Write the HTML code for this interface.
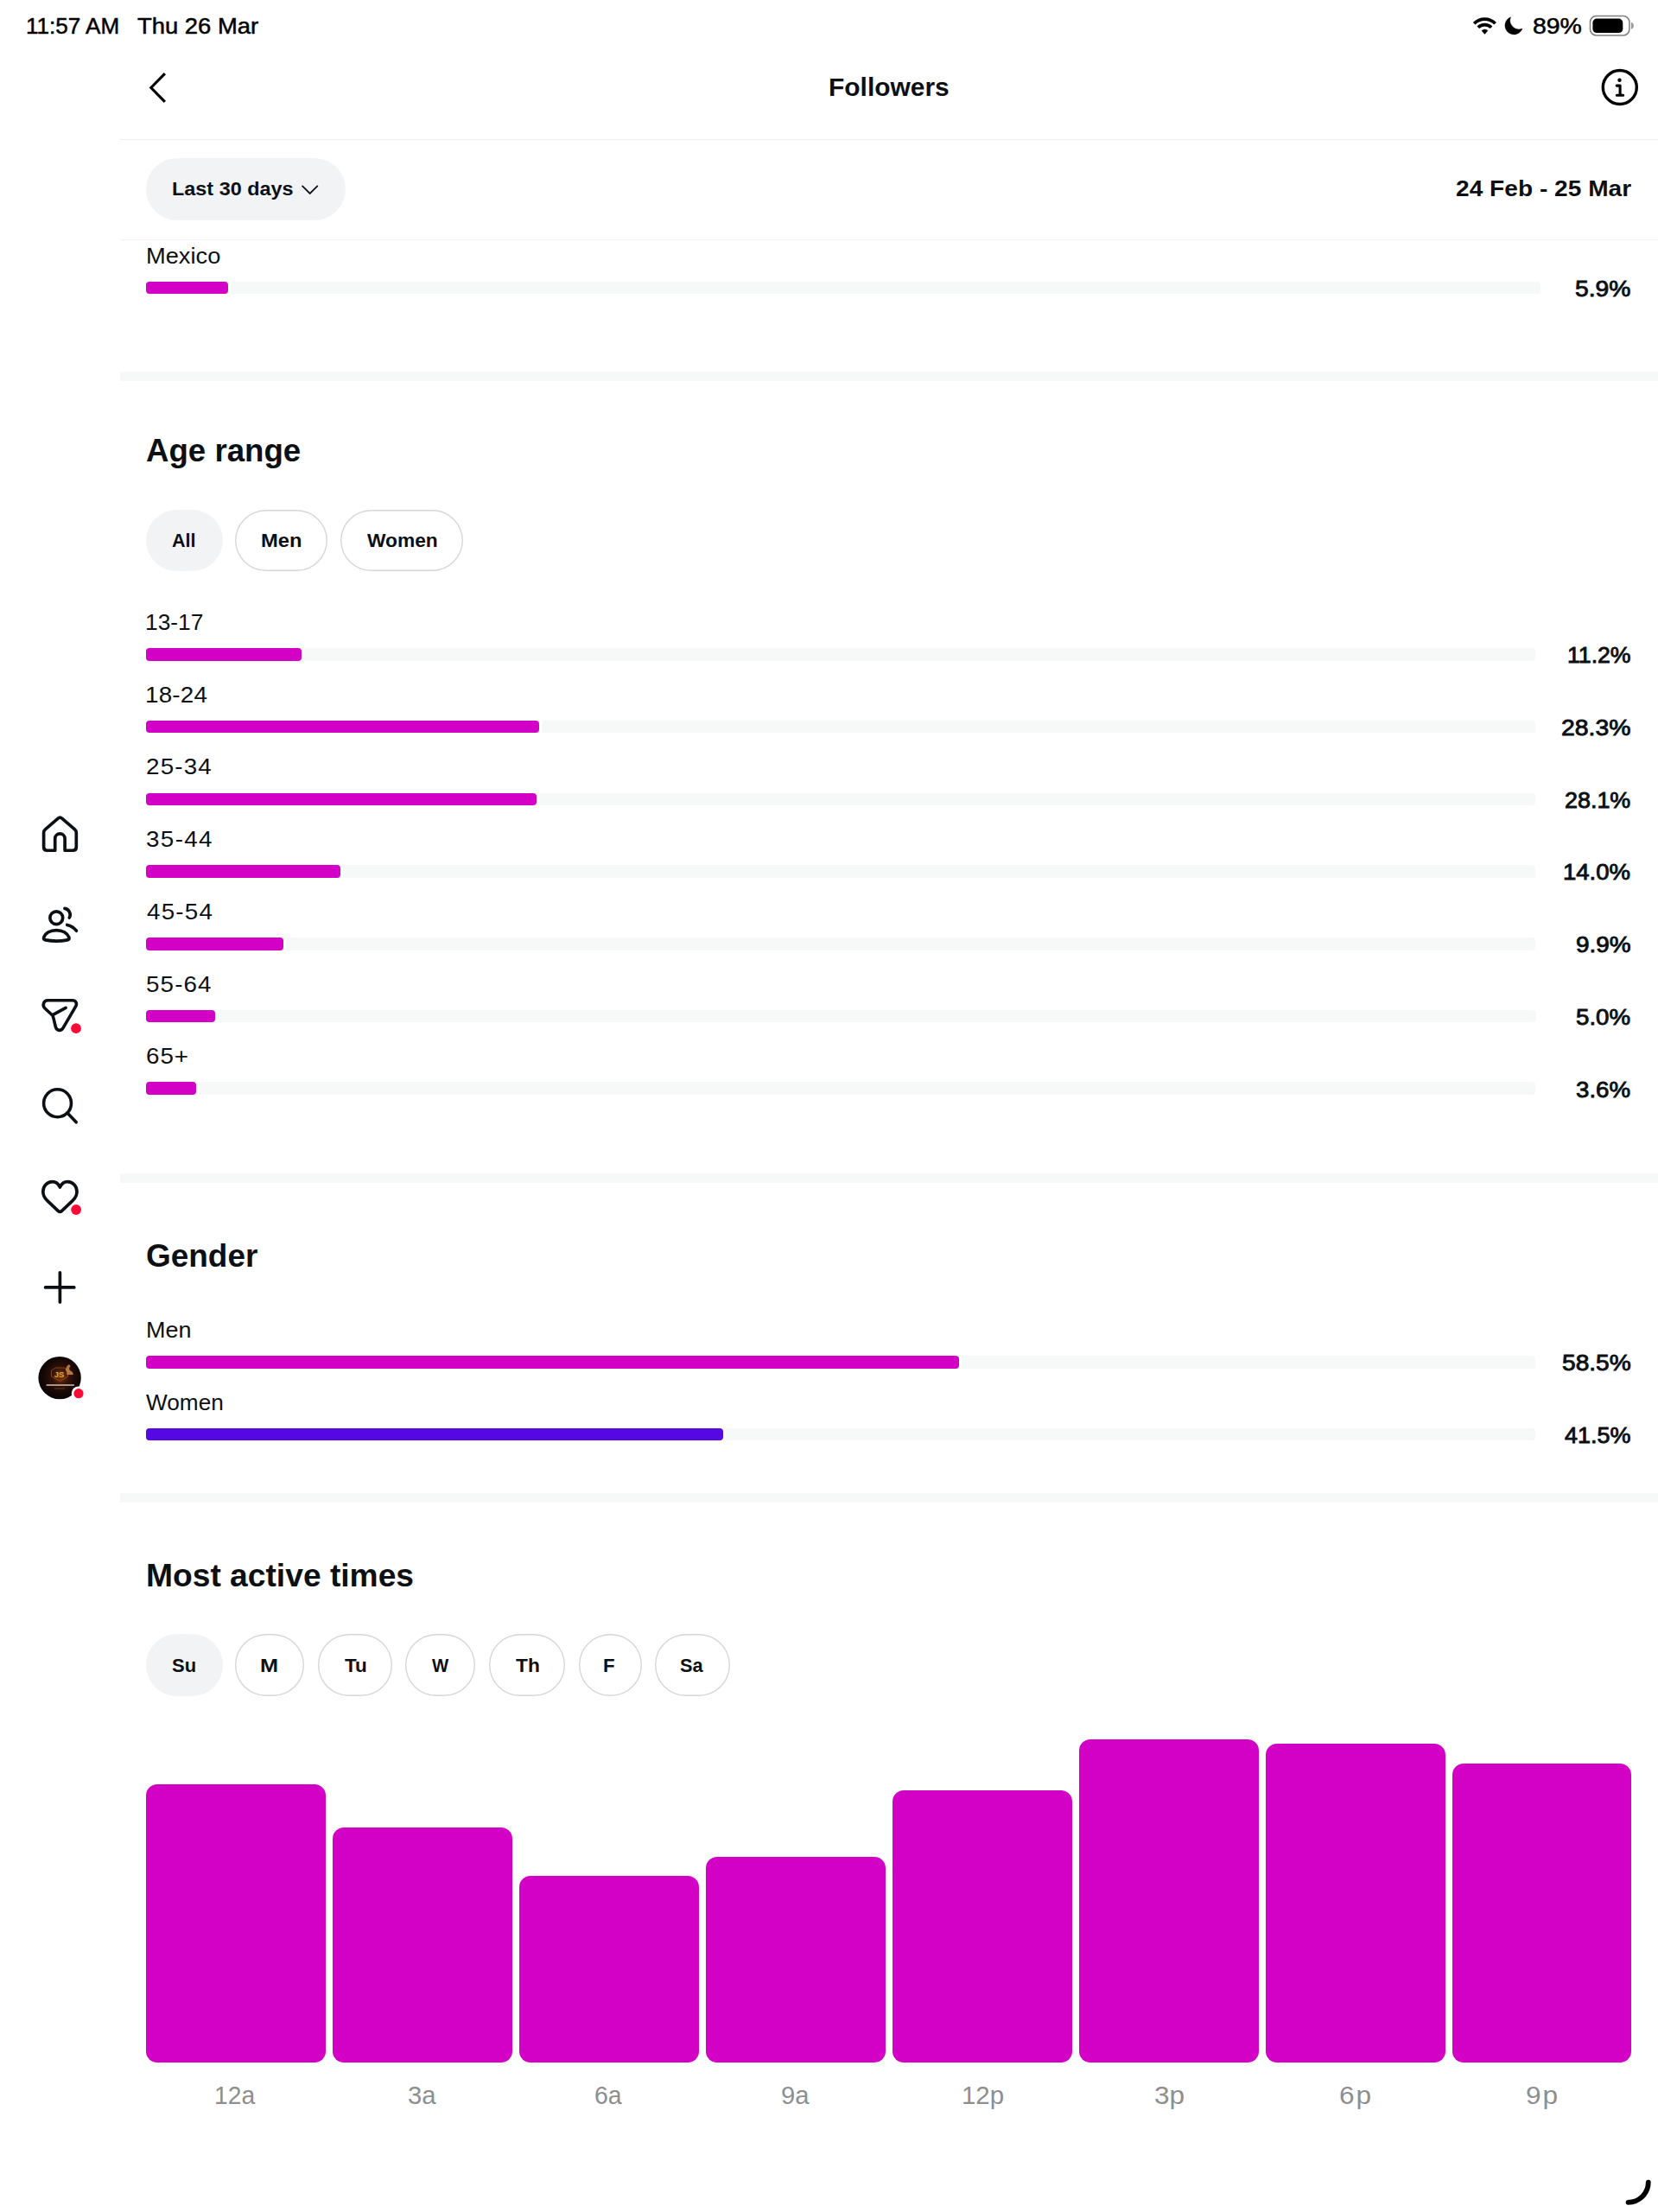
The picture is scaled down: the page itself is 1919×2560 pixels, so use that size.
<!DOCTYPE html>
<html lang="en">
<head>
<meta charset="utf-8">
<title>Followers</title>
<style>
html,body{margin:0;padding:0;background:#fff;}
body{width:1919px;height:2560px;position:relative;overflow:hidden;font-family:"Liberation Sans",sans-serif;color:#0c1014;}
.t{position:absolute;white-space:nowrap;line-height:1;display:block;transform-origin:left center;}
.b{position:absolute;box-sizing:border-box;}
svg{position:absolute;overflow:visible;}
</style>
</head>
<body>
<!-- status bar -->
<span class="t" style="left:30.15px;top:16.99px;font-size:26px;color:#000;-webkit-text-stroke:0.5px #000;transform:scaleX(1.0022);">11:57 AM</span>
<span class="t" style="left:158.68px;top:16.99px;font-size:26px;color:#000;-webkit-text-stroke:0.5px #000;transform:scaleX(1.0538);">Thu 26 Mar</span>
<span class="t" style="left:1773.78px;top:17.71px;font-size:25.5px;color:#000;-webkit-text-stroke:0.5px #000;transform:scaleX(1.1149);">89%</span>
<!-- header -->
<span class="t" style="left:959.05px;top:86.65px;font-size:29px;font-weight:700;transform:scaleX(1.0322);">Followers</span>
<div class="b" style="left:139.00px;top:160.50px;width:1780.00px;height:1.00px;background:#efefef;"></div>
<div class="b" style="left:139.00px;top:276.50px;width:1780.00px;height:1.00px;background:#f3f3f3;"></div>
<div class="b" style="left:169.00px;top:183.00px;width:231.00px;height:72.00px;background:#f2f3f5;border-radius:36px;"></div>
<span class="t" style="left:198.68px;top:207.55px;font-size:22.5px;font-weight:700;transform:scaleX(1.0412);">Last 30 days</span>
<span class="t" style="left:1685.22px;top:205.51px;font-size:25.5px;font-weight:700;letter-spacing:0.03px;transform:scaleX(1.1000);">24 Feb - 25 Mar</span>
<!-- top locations (tail) -->
<span class="t" style="left:168.72px;top:283.51px;font-size:25.5px;transform:scaleX(1.0689);">Mexico</span>
<div class="b" style="left:267.23px;top:325.80px;width:1515.77px;height:14.50px;background:#f7f8f8;border-radius:1px 4px 4px 1px;"></div>
<div class="b" style="left:169.00px;top:325.80px;width:95.23px;height:14.50px;background:#d300c5;border-radius:4px;"></div>
<span class="t" style="left:1823.35px;top:320.89px;font-size:26px;-webkit-text-stroke:0.9px #0c1014;transform:scaleX(1.0857);">5.9%</span>
<div class="b" style="left:139.00px;top:430.00px;width:1780.00px;height:11.00px;background:#f7f8f8;"></div>
<div class="b" style="left:139.00px;top:1358.00px;width:1780.00px;height:11.00px;background:#f7f8f8;"></div>
<div class="b" style="left:139.00px;top:1728.00px;width:1780.00px;height:11.00px;background:#f7f8f8;"></div>
<!-- age range -->
<span class="t" style="left:169.08px;top:502.96px;font-size:37.5px;font-weight:700;transform:scaleX(0.9772);">Age range</span>
<div class="b" style="left:169.00px;top:589.70px;width:88.50px;height:71.00px;background:#f2f3f5;border-radius:35.5px;"></div>
<span class="t" style="left:199.46px;top:614.78px;font-size:22px;font-weight:700;transform:scaleX(0.9781);">All</span>
<div class="b" style="left:272.00px;top:589.70px;width:107.00px;height:71.00px;background:#fff;border-radius:35.5px;box-shadow:inset 0 0 0 1.4px #d6d6d6;"></div>
<span class="t" style="left:301.66px;top:614.78px;font-size:22px;font-weight:700;transform:scaleX(1.0788);">Men</span>
<div class="b" style="left:393.50px;top:589.70px;width:142.00px;height:71.00px;background:#fff;border-radius:35.5px;box-shadow:inset 0 0 0 1.4px #d6d6d6;"></div>
<span class="t" style="left:424.70px;top:614.78px;font-size:22px;font-weight:700;transform:scaleX(1.0340);">Women</span>
<span class="t" style="left:168.22px;top:707.91px;font-size:25.5px;transform:scaleX(1.0328);">13-17</span>
<div class="b" style="left:352.15px;top:750.20px;width:1425.35px;height:14.50px;background:#f7f8f8;border-radius:1px 4px 4px 1px;"></div>
<div class="b" style="left:169.00px;top:750.20px;width:180.15px;height:14.50px;background:#d300c5;border-radius:4px;"></div>
<span class="t" style="left:1814.02px;top:745.29px;font-size:26px;-webkit-text-stroke:0.9px #0c1014;transform:scaleX(1.0240);">11.2%</span>
<span class="t" style="left:168.12px;top:791.61px;font-size:25.5px;letter-spacing:0.18px;transform:scaleX(1.0900);">18-24</span>
<div class="b" style="left:627.21px;top:833.90px;width:1150.29px;height:14.50px;background:#f7f8f8;border-radius:1px 4px 4px 1px;"></div>
<div class="b" style="left:169.00px;top:833.90px;width:455.21px;height:14.50px;background:#d300c5;border-radius:4px;"></div>
<span class="t" style="left:1807.06px;top:828.99px;font-size:26px;letter-spacing:0.02px;-webkit-text-stroke:0.9px #0c1014;transform:scaleX(1.0900);">28.3%</span>
<span class="t" style="left:168.81px;top:874.81px;font-size:25.5px;letter-spacing:1.08px;transform:scaleX(1.0900);">25-34</span>
<div class="b" style="left:623.99px;top:917.60px;width:1153.51px;height:14.50px;background:#f7f8f8;border-radius:1px 4px 4px 1px;"></div>
<div class="b" style="left:169.00px;top:917.60px;width:451.99px;height:14.50px;background:#d300c5;border-radius:4px;"></div>
<span class="t" style="left:1811.29px;top:912.69px;font-size:26px;-webkit-text-stroke:0.9px #0c1014;transform:scaleX(1.0341);">28.1%</span>
<span class="t" style="left:169.09px;top:958.51px;font-size:25.5px;letter-spacing:1.25px;transform:scaleX(1.0900);">35-44</span>
<div class="b" style="left:397.19px;top:1001.30px;width:1380.31px;height:14.50px;background:#f7f8f8;border-radius:1px 4px 4px 1px;"></div>
<div class="b" style="left:169.00px;top:1001.30px;width:225.19px;height:14.50px;background:#d300c5;border-radius:4px;"></div>
<span class="t" style="left:1809.49px;top:996.39px;font-size:26px;-webkit-text-stroke:0.9px #0c1014;transform:scaleX(1.0585);">14.0%</span>
<span class="t" style="left:169.64px;top:1042.71px;font-size:25.5px;letter-spacing:1.12px;transform:scaleX(1.0900);">45-54</span>
<div class="b" style="left:331.24px;top:1085.00px;width:1446.26px;height:14.50px;background:#f7f8f8;border-radius:1px 4px 4px 1px;"></div>
<div class="b" style="left:169.00px;top:1085.00px;width:159.24px;height:14.50px;background:#d300c5;border-radius:4px;"></div>
<span class="t" style="left:1823.91px;top:1080.09px;font-size:26px;-webkit-text-stroke:0.9px #0c1014;transform:scaleX(1.0729);">9.9%</span>
<span class="t" style="left:169.09px;top:1126.91px;font-size:25.5px;letter-spacing:1.02px;transform:scaleX(1.0900);">55-64</span>
<div class="b" style="left:252.43px;top:1168.70px;width:1525.08px;height:14.50px;background:#f7f8f8;border-radius:1px 4px 4px 1px;"></div>
<div class="b" style="left:169.00px;top:1168.70px;width:80.42px;height:14.50px;background:#d300c5;border-radius:4px;"></div>
<span class="t" style="left:1824.45px;top:1163.79px;font-size:26px;-webkit-text-stroke:0.9px #0c1014;transform:scaleX(1.0638);">5.0%</span>
<span class="t" style="left:168.81px;top:1209.61px;font-size:25.5px;letter-spacing:0.86px;transform:scaleX(1.0900);">65+</span>
<div class="b" style="left:229.91px;top:1252.40px;width:1547.59px;height:14.50px;background:#f7f8f8;border-radius:1px 4px 4px 1px;"></div>
<div class="b" style="left:169.00px;top:1252.40px;width:57.91px;height:14.50px;background:#d300c5;border-radius:4px;"></div>
<span class="t" style="left:1824.45px;top:1247.99px;font-size:26px;-webkit-text-stroke:0.9px #0c1014;transform:scaleX(1.0638);">3.6%</span>
<!-- gender -->
<span class="t" style="left:168.72px;top:1434.86px;font-size:37.5px;font-weight:700;transform:scaleX(0.9854);">Gender</span>
<span class="t" style="left:168.74px;top:1526.81px;font-size:25.5px;transform:scaleX(1.0588);">Men</span>
<div class="b" style="left:1112.97px;top:1569.20px;width:664.53px;height:14.50px;background:#f7f8f8;border-radius:1px 4px 4px 1px;"></div>
<div class="b" style="left:169.00px;top:1569.20px;width:940.97px;height:14.50px;background:#d300c5;border-radius:4px;"></div>
<span class="t" style="left:1807.75px;top:1564.29px;font-size:26px;-webkit-text-stroke:0.9px #0c1014;transform:scaleX(1.0821);">58.5%</span>
<span class="t" style="left:169.47px;top:1610.91px;font-size:25.5px;transform:scaleX(1.0274);">Women</span>
<div class="b" style="left:839.53px;top:1652.80px;width:937.97px;height:14.50px;background:#f7f8f8;border-radius:1px 4px 4px 1px;"></div>
<div class="b" style="left:169.00px;top:1652.80px;width:667.53px;height:14.50px;background:#5608e2;border-radius:4px;"></div>
<span class="t" style="left:1811.19px;top:1647.89px;font-size:26px;-webkit-text-stroke:0.9px #0c1014;transform:scaleX(1.0354);">41.5%</span>
<!-- most active times -->
<span class="t" style="left:168.88px;top:1804.76px;font-size:37.5px;font-weight:700;transform:scaleX(0.9918);">Most active times</span>
<div class="b" style="left:169.00px;top:1891.30px;width:88.70px;height:71.50px;background:#f2f3f5;border-radius:35.75px;"></div>
<span class="t" style="left:199.04px;top:1916.68px;font-size:22px;font-weight:700;transform:scaleX(0.9977);">Su</span>
<div class="b" style="left:272.20px;top:1891.30px;width:80.00px;height:71.50px;background:#fff;border-radius:35.75px;box-shadow:inset 0 0 0 1.4px #d6d6d6;"></div>
<span class="t" style="left:301.46px;top:1916.68px;font-size:22px;font-weight:700;transform:scaleX(1.1494);">M</span>
<div class="b" style="left:367.70px;top:1891.30px;width:86.50px;height:71.50px;background:#fff;border-radius:35.75px;box-shadow:inset 0 0 0 1.4px #d6d6d6;"></div>
<span class="t" style="left:398.87px;top:1916.68px;font-size:22px;font-weight:700;transform:scaleX(1.0238);">Tu</span>
<div class="b" style="left:469.20px;top:1891.30px;width:80.80px;height:71.50px;background:#fff;border-radius:35.75px;box-shadow:inset 0 0 0 1.4px #d6d6d6;"></div>
<span class="t" style="left:500.40px;top:1916.68px;font-size:22px;font-weight:700;transform:scaleX(0.9235);">W</span>
<div class="b" style="left:566.40px;top:1891.30px;width:87.50px;height:71.50px;background:#fff;border-radius:35.75px;box-shadow:inset 0 0 0 1.4px #d6d6d6;"></div>
<span class="t" style="left:597.27px;top:1916.68px;font-size:22px;font-weight:700;transform:scaleX(1.0356);">Th</span>
<div class="b" style="left:669.50px;top:1891.30px;width:73.00px;height:71.50px;background:#fff;border-radius:35.75px;box-shadow:inset 0 0 0 1.4px #d6d6d6;"></div>
<span class="t" style="left:698.35px;top:1916.68px;font-size:22px;font-weight:700;transform:scaleX(1.0160);">F</span>
<div class="b" style="left:757.50px;top:1891.30px;width:87.20px;height:71.50px;background:#fff;border-radius:35.75px;box-shadow:inset 0 0 0 1.4px #d6d6d6;"></div>
<span class="t" style="left:787.15px;top:1916.68px;font-size:22px;font-weight:700;transform:scaleX(0.9886);">Sa</span>
<div class="b" style="left:168.90px;top:2064.60px;width:207.80px;height:322.40px;background:#d300c5;border-radius:13px;"></div>
<span class="t" style="left:247.78px;top:2410.95px;font-size:29px;color:#8e8e8e;transform:scaleX(0.9738);">12a</span>
<div class="b" style="left:384.87px;top:2114.60px;width:207.80px;height:272.40px;background:#d300c5;border-radius:13px;"></div>
<span class="t" style="left:472.23px;top:2410.95px;font-size:29px;color:#8e8e8e;transform:scaleX(1.0087);">3a</span>
<div class="b" style="left:600.84px;top:2170.60px;width:207.80px;height:216.40px;background:#d300c5;border-radius:13px;"></div>
<span class="t" style="left:688.48px;top:2410.95px;font-size:29px;color:#8e8e8e;transform:scaleX(0.9792);">6a</span>
<div class="b" style="left:816.81px;top:2149.40px;width:207.80px;height:237.60px;background:#d300c5;border-radius:13px;"></div>
<span class="t" style="left:904.09px;top:2410.95px;font-size:29px;color:#8e8e8e;transform:scaleX(1.0070);">9a</span>
<div class="b" style="left:1032.78px;top:2072.30px;width:207.80px;height:314.70px;background:#d300c5;border-radius:13px;"></div>
<span class="t" style="left:1112.59px;top:2410.95px;font-size:29px;color:#8e8e8e;transform:scaleX(1.0145);">12p</span>
<div class="b" style="left:1248.75px;top:2012.60px;width:207.80px;height:374.40px;background:#d300c5;border-radius:13px;"></div>
<span class="t" style="left:1336.14px;top:2410.95px;font-size:29px;color:#8e8e8e;letter-spacing:0.04px;transform:scaleX(1.0900);">3p</span>
<div class="b" style="left:1464.72px;top:2017.70px;width:207.80px;height:369.30px;background:#d300c5;border-radius:13px;"></div>
<span class="t" style="left:1550.32px;top:2410.95px;font-size:29px;color:#8e8e8e;letter-spacing:1.80px;transform:scaleX(1.0900);">6p</span>
<div class="b" style="left:1680.69px;top:2040.50px;width:207.80px;height:346.50px;background:#d300c5;border-radius:13px;"></div>
<span class="t" style="left:1766.18px;top:2410.95px;font-size:29px;color:#8e8e8e;letter-spacing:1.65px;transform:scaleX(1.0900);">9p</span>
<!-- status icons -->
<svg style="left:1700px;top:14px" width="200" height="32" viewBox="1700 14 200 32">
  <!-- wifi -->
  <g fill="none" stroke="#000" stroke-linecap="butt">
    <path d="M1706.22 27.22 A17.3 17.3 0 0 1 1730.68 27.22" stroke-width="3.7"/>
    <path d="M1710.81 31.81 A10.8 10.8 0 0 1 1726.09 31.81" stroke-width="3.7"/>
  </g>
  <path d="M1718.45 39.5 L1715 35.5 A5.3 5.3 0 0 1 1721.9 35.5 Z" fill="#000" stroke="#000" stroke-width="0.5" stroke-linejoin="round"/>
  <!-- moon -->
  <path d="M1748.55 19.8 A10.4 10.4 0 1 0 1762.06 33.1 A10.3 10.3 0 0 1 1748.55 19.8 Z" fill="#000" stroke="#000" stroke-width="0.4" stroke-linejoin="round"/>
  <!-- battery -->
  <rect x="1840.5" y="18.6" width="45.4" height="22.3" rx="7" ry="7" fill="none" stroke="#7f7f7f" stroke-width="1.5"/>
  <rect x="1843.4" y="21.6" width="34.9" height="16.4" rx="4.6" ry="4.6" fill="#000"/>
  <path d="M1887.9 25.7 Q1890.9 26.6 1890.9 29.7 Q1890.9 32.8 1887.9 33.7 Z" fill="#9a9a9a"/>
</svg>

<!-- back chevron -->
<svg style="left:160px;top:75px" width="50" height="55" viewBox="160 75 50 55">
  <path d="M190.9 85.2 L174.8 101.5 L190.9 117.8" fill="none" stroke="#000" stroke-width="3.1" stroke-linejoin="miter" stroke-linecap="butt"/>
</svg>

<!-- info -->
<svg style="left:1850px;top:76px" width="50" height="50" viewBox="1850 76 50 50">
  <circle cx="1874.8" cy="101" r="19.5" fill="none" stroke="#000" stroke-width="3.4"/>
  <circle cx="1874.5" cy="92.8" r="2.2" fill="#000"/>
  <path d="M1871.2 99.1 H1875.1 V110.2 M1871.3 110.2 H1878.7" fill="none" stroke="#000" stroke-width="3.1" stroke-linecap="round" stroke-linejoin="round"/>
</svg>

<!-- pill chevron -->
<svg style="left:345px;top:210px" width="30" height="20" viewBox="345 210 30 20">
  <path d="M350.1 215.4 L358.7 223.9 L367.3 215.4" fill="none" stroke="#0c1014" stroke-width="1.8" stroke-linecap="round" stroke-linejoin="miter"/>
</svg>

<!-- sidebar: home -->
<svg style="left:48px;top:943px" width="43" height="44" viewBox="0 0 43 44">
  <path d="M15.7 41.25 H6.6 Q2.6 41.25 2.6 37.25 V20.6 Q2.6 18.3 4.4 16.8 L18.9 4.3 Q21.45 2.1 24 4.3 L38.5 16.8 Q40.3 18.3 40.3 20.6 V37.25 Q40.3 41.25 36.3 41.25 H27.1 V27.6 A5.7 5.7 0 0 0 15.7 27.6 Z" fill="none" stroke="#0c1014" stroke-width="3.7" stroke-linejoin="round"/>
</svg>

<!-- sidebar: people -->
<svg style="left:40px;top:1040px" width="60" height="60" viewBox="40 1040 60 60">
  <g fill="none" stroke="#0c1014" stroke-width="3.7" stroke-linecap="round" stroke-linejoin="round">
    <circle cx="65.27" cy="1062.23" r="7.4"/>
    <path d="M50.7 1085 C52.5 1080 58 1076.6 65.27 1076.6 C72.5 1076.6 78 1080 79.9 1085 C80.4 1086.6 79.6 1087.6 78 1087.9 C70 1089.4 60.5 1089.4 52.6 1087.9 C51 1087.6 50.2 1086.6 50.7 1085 Z"/>
    <path d="M74.9 1051.3 A7.4 7.4 0 0 1 80.3 1062"/>
    <path d="M77.7 1070.5 Q84.2 1071.9 88.4 1077.2"/>
  </g>
</svg>

<!-- sidebar: send -->
<svg style="left:40px;top:1145px" width="60" height="60" viewBox="40 1145 60 60">
  <g fill="none" stroke="#0c1014" stroke-width="3.6" stroke-linecap="round" stroke-linejoin="round">
    <path d="M55.2 1157.75 H83.9 C87.6 1157.75 89.6 1161.2 87.7 1164.6 L73.2 1189.3 C71 1193.2 66.3 1193.6 64.6 1189.2 C63.6 1186.6 62.6 1179.6 60.9 1175.2 L52 1167 C48.6 1163.8 50.4 1157.75 55.2 1157.75 Z"/>
    <path d="M61.4 1174.3 L76.1 1166.4"/>
  </g>
  <circle cx="88" cy="1190.2" r="5.9" fill="#ff0a37"/>
</svg>

<!-- sidebar: search -->
<svg style="left:40px;top:1250px" width="60" height="60" viewBox="40 1250 60 60">
  <g fill="none" stroke="#0c1014" stroke-width="3.6" stroke-linecap="round">
    <circle cx="66.54" cy="1276.75" r="15.95"/>
    <path d="M77.9 1288.1 L88.2 1298.8"/>
  </g>
</svg>

<!-- sidebar: heart -->
<svg style="left:48px;top:1365px" width="50" height="46" viewBox="0 0 50 46">
  <path d="M21.4 9 C19.5 5 16.5 2.7 12.75 2.7 C6.5 2.7 1.8 7.8 1.8 14.1 C1.8 18.5 3.8 21.9 6.84 24.7 L19.2 36.4 Q21.4 38.4 23.6 36.4 L35.96 24.7 C39 21.9 41 18.5 41 14.1 C41 7.8 36.3 2.7 30.05 2.7 C26.3 2.7 23.3 5 21.4 9 Z" fill="none" stroke="#0c1014" stroke-width="3.7" stroke-linejoin="round"/>
  <circle cx="40.1" cy="35" r="5.9" fill="#ff0a37"/>
</svg>

<!-- sidebar: plus -->
<svg style="left:45px;top:1465px" width="50" height="50" viewBox="45 1465 50 50">
  <path d="M52.6 1489.95 H85.8 M69.4 1472.8 V1507" fill="none" stroke="#0c1014" stroke-width="3.7" stroke-linecap="round"/>
</svg>

<!-- sidebar: avatar -->
<svg style="left:40px;top:1566px" width="64" height="60" viewBox="40 1566 64 60">
  <defs>
    <radialGradient id="avg" cx="0.52" cy="0.47" r="0.5">
      <stop offset="0" stop-color="#84380f"/>
      <stop offset="0.4" stop-color="#341208"/>
      <stop offset="0.8" stop-color="#150706"/>
      <stop offset="1" stop-color="#0c0505"/>
    </radialGradient>
    <clipPath id="avc"><circle cx="69.1" cy="1594.6" r="24.7"/></clipPath>
  </defs>
  <circle cx="69.1" cy="1594.6" r="24.7" fill="url(#avg)"/>
  <g clip-path="url(#avc)">
    <path d="M59.5 1586 L64.5 1583 H74 L78.5 1586 V1593 L69.5 1598.5 L59.5 1593 Z" fill="none" stroke="#a55a1e" stroke-width="0.9" opacity="0.8"/>
    <text x="68.6" y="1593.6" font-family="Liberation Sans, sans-serif" font-weight="700" font-size="9.5" fill="#e0a63c" text-anchor="middle">JS</text>
    <path d="M78 1580.5 q2.5 -2.5 3.5 0.5 q-2.2 2.8 -0.6 5 q3.4 1 4 5 h-7.5 q0.2 -3.6 -1.6 -5.4 q0.4 -3 2.2 -5.1 z" fill="#c98a4a" opacity="0.85"/>
    <rect x="53.5" y="1601.9" width="32.5" height="2" rx="0.6" fill="#bfae9c" opacity="0.85"/>
    <rect x="63" y="1606.5" width="12" height="1" fill="#7a4a2a" opacity="0.7"/>
  </g>
  <circle cx="91" cy="1612.7" r="8.3" fill="#fff"/>
  <circle cx="91" cy="1612.7" r="5.6" fill="#ff0a37"/>
</svg>

<!-- bottom right arc -->
<svg style="left:1870px;top:2510px" width="49" height="50" viewBox="1870 2510 49 50">
  <path d="M1907.8 2525.6 A23.2 23.2 0 0 1 1884.6 2548.8" fill="none" stroke="#000" stroke-width="5.8" stroke-linecap="round"/>
</svg>

</body>
</html>
